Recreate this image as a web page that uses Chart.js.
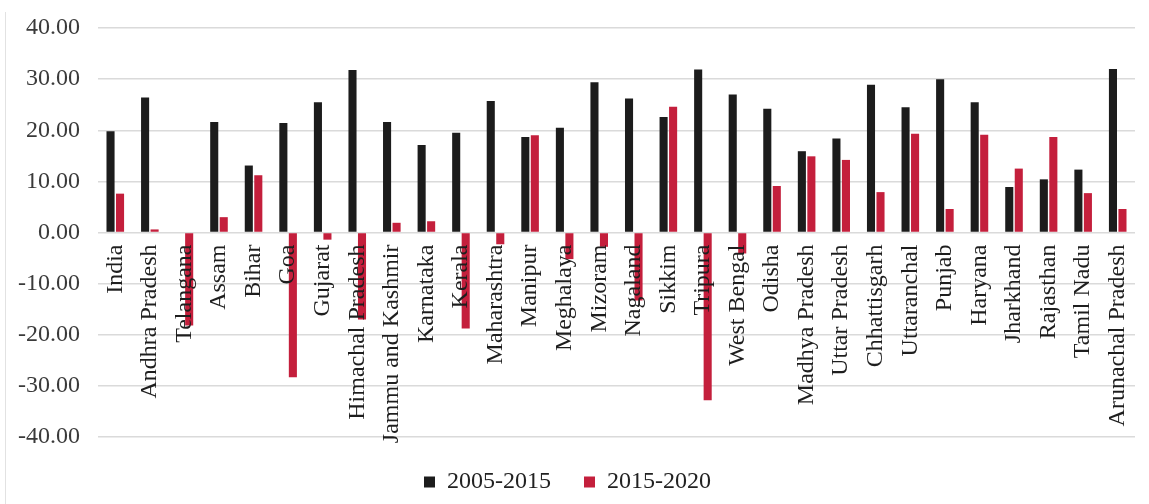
<!DOCTYPE html>
<html>
<head>
<meta charset="utf-8">
<script src="https://cdn.jsdelivr.net/npm/chart.js@4.4.1/dist/chart.umd.min.js"></script>
<style>
  body { margin: 0; background: #fff; }
  #wrap { position: relative; width: 1149px; height: 504px; }
  #edge { position: absolute; left: 5px; top: 12px; width: 1px; height: 492px; background: #e2e2e2; }
</style>
</head>
<body>
<div id="wrap">
  <div id="edge"></div>
  <canvas id="chart1"></canvas>
</div>
<script>
const states = ['India', 'Andhra Pradesh', 'Telangana', 'Assam', 'Bihar', 'Goa', 'Gujarat',
    'Himachal Pradesh', 'Jammu and Kashmir', 'Karnataka', 'Kerala', 'Maharashtra', 'Manipur',
    'Meghalaya', 'Mizoram', 'Nagaland', 'Sikkim', 'Tripura', 'West Bengal', 'Odisha',
    'Madhya Pradesh', 'Uttar Pradesh', 'Chhattisgarh', 'Uttaranchal', 'Punjab', 'Haryana',
    'Jharkhand', 'Rajasthan', 'Tamil Nadu', 'Arunachal Pradesh']

const growth0515 = [19.8, 26.4, 0, 21.6, 13.1, 21.4, 25.5, 31.8, 21.6, 17.1, 19.5, 25.7, 18.7,
    20.5, 29.4, 26.2, 22.6, 31.9, 27.0, 24.2, 15.9, 18.4, 28.9, 24.5, 30.0, 25.5, 8.9, 10.4, 12.3, 32.0]

const growth1520 = [7.6, 0.6, -18.2, 3.0, 11.2, -28.3, -1.4, -17.0, 1.9, 2.2, -18.8, -2.3, 19.0,
    -5.2, -2.8, -13.3, 24.6, -32.8, -4.1, 9.1, 14.9, 14.2, 7.9, 19.3, 4.6, 19.1, 12.5, 18.7, 7.7, 4.6]

const seriesNames = ['2005-2015', '2015-2020']

const yMin = -40
const yMax = 40
const yStep = 10

const serif = 'Liberation Serif'

function renderChart() {
    const ctx = document.querySelector('#chart1').getContext('2d')

    new Chart(ctx, {
        type: 'bar',
        data: {
            labels: states,
            datasets: [
                {
                    label: seriesNames[0],
                    data: growth0515,
                    backgroundColor: '#1c1c1c',
                    borderWidth: 0,
                    categoryPercentage: 0.55,
                    barPercentage: 0.85,
                },
                {
                    label: seriesNames[1],
                    data: growth1520,
                    backgroundColor: '#c41f3c',
                    borderWidth: 0,
                    categoryPercentage: 0.55,
                    barPercentage: 0.85,
                }
            ]
        },
        options: {
            responsive: true,
            maintainAspectRatio: false,
            animation: false,
            layout: {
                padding: { top: 28, right: 14, bottom: 0, left: 0 }
            },
            plugins: {
                tooltip: { enabled: false },
                legend: {
                    position: 'bottom',
                    labels: {
                        boxWidth: 11,
                        boxHeight: 11,
                        padding: 33,
                        color: '#222',
                        font: { family: serif, size: 24 }
                    }
                }
            },
            scales: {
                x: {
                    position: { y: 0 },
                    afterFit: (scale) => {
                        scale.paddingLeft = 0
                        scale.paddingRight = 0
                        scale.paddingTop = 0
                        scale.paddingBottom = 0
                    },
                    grid: { display: false, drawTicks: false },
                    border: { display: false },
                    ticks: {
                        z: 1,
                        autoSkip: false,
                        minRotation: 90,
                        maxRotation: 90,
                        padding: 12,
                        color: '#1e1e1e',
                        font: { family: serif, size: 24 }
                    }
                },
                y: {
                    min: yMin,
                    max: yMax,
                    afterFit: (scale) => {
                        scale.width = 98
                        scale.paddingTop = 0
                        scale.paddingBottom = 0
                    },
                    grid: { color: '#dadada', lineWidth: 1.5, drawTicks: false },
                    border: { display: false },
                    ticks: {
                        stepSize: yStep,
                        padding: 18,
                        color: '#3a3a3a',
                        font: { family: serif, size: 24 },
                        callback: (v) => v.toFixed(2)
                    }
                }
            }
        }
    })
}

renderChart()
</script>
</body>
</html>
